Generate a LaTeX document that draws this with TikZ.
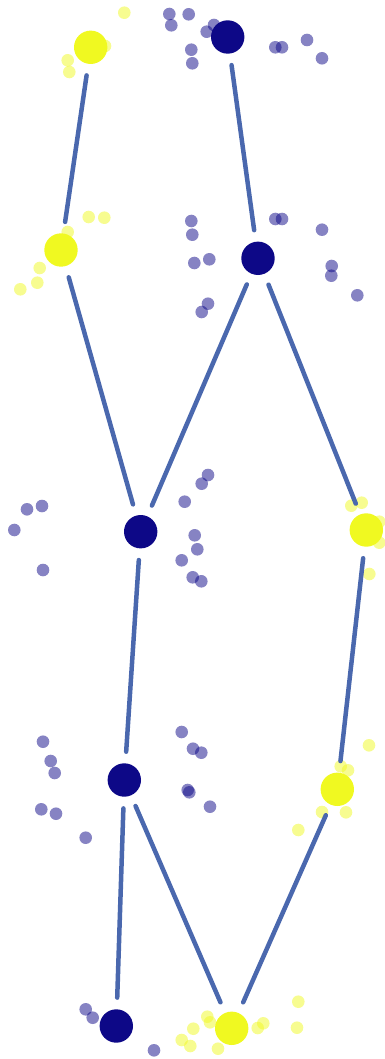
\documentclass[tikz,border=0pt]{standalone}
\definecolor{pdark}{HTML}{0D0887}
\definecolor{pyel}{HTML}{F0F921}
\definecolor{edgec}{RGB}{74,104,174}
\begin{document}
\begin{tikzpicture}[x=1pt,y=-1pt,
  big/.style={circle,inner sep=0pt,minimum size=33.4pt},
  bn/.style={big,fill=pdark},
  yn/.style={big,fill=pyel},
  bd/.style={fill=pdark,fill opacity=0.5},
  yd/.style={fill=pyel,fill opacity=0.5},
  link/.style={draw=edgec,line width=4.5pt,line cap=round,shorten <=11.5pt,shorten >=11.5pt}]
\useasboundingbox (0,0) rectangle (385,1059);
% small dots
\foreach \x/\y in {169.3/14,188.7/14.3,171.3/25.3,214/25,206.7/31.7,191.3/49.7,192.3/63.3,275.3/47.3,282/47.3,307/40,322/58.3,
  191.3/221,192.3/234.7,194.3/263,209.3/259.3,275.3/219,282/219,322/229.7,331.7/266,331.3/275.7,357.3/295.3,208/303.7,201.7/312,
  27/509.3,42/506,14.3/530,43/570,208/475,201.7/483.7,184.7/501.7,194.7/535.3,197.3/549.3,181.7/560.3,192.7/577.3,201.3/581.3,
  43/741.7,50.7/761,54.7/773,41.3/809.3,56/813.7,85.7/837.7,181.7/732,193/748.7,201.3/752.7,187.7/790,189.3/792.3,210/806.7,
  85.7/1009.3,92.7/1017.7,154/1050.3}
  \path[bd] (\x,\y) circle (6.3);
\foreach \x/\y in {124.3/12.7,67.7/60.3,69.3/72,105/46,
  88.7/217,104.3/217.7,67.7/232,39.7/268,37.3/282.7,20.3/289.3,
  351.3/505.7,361.7/502.7,379.3/521.7,379.3/542.7,369.3/574,
  369/745.3,340.7/766.3,348/770.3,322/812,346/812.3,298.3/830,
  207.3/1016.7,210/1022.3,193.3/1028.7,181.7/1040,190.3/1046,218/1048.7,257.7/1028,263.3/1023.3,298.3/1001.7,297/1027.7}
  \path[yd] (\x,\y) circle (6.3);
% main nodes
\node[yn] (A) at (90.7,47.3) {};
\node[bn] (B) at (227.7,37) {};
\node[yn] (C) at (61,250) {};
\node[bn] (D) at (258,258.3) {};
\node[bn] (E) at (140.7,531.7) {};
\node[yn] (F) at (366.3,530) {};
\node[bn] (G) at (124.3,780) {};
\node[yn] (H) at (337.3,789.3) {};
\node[bn] (I) at (116.3,1026) {};
\node[yn] (J) at (231.7,1028.3) {};
% links
\foreach \a/\b in {A/C,B/D,C/E,D/E,D/F,E/G,F/H,G/I,G/J,H/J}
  \path[link] (\a) -- (\b);
\end{tikzpicture}
\end{document}
